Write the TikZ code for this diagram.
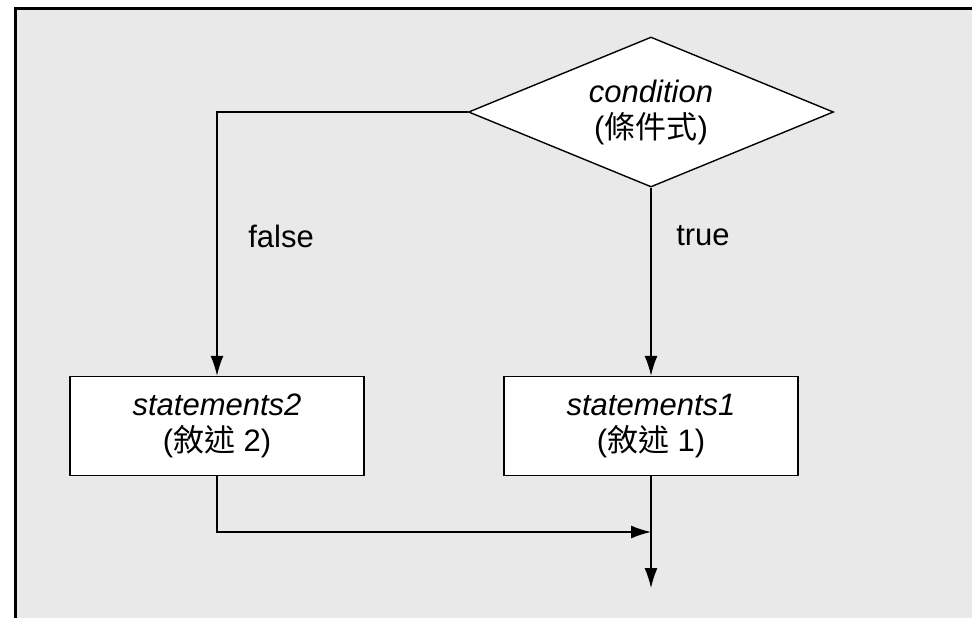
\documentclass[tikz,border=0pt]{standalone}
\usepackage{fontspec}
\setmainfont{Liberation Sans}
\newfontfamily\cjk{Noto Sans CJK TC}
\usetikzlibrary{positioning, shapes.geometric, arrows.meta}
\definecolor{panelgray}{HTML}{E9E9E9}

\begin{document}
\begin{tikzpicture}[x=0.5pt, y=-0.5pt, >={Latex[length=10pt,width=6.5pt]},
  every node/.style={font=\fontsize{15.5}{18}\selectfont, align=center},
  stmt/.style={draw, fill=white, line width=0.7pt, minimum width=147pt, minimum height=49.5pt, inner sep=0pt},
  decision/.style={diamond, aspect=2.43, draw, fill=white, line width=0.7pt, minimum width=182.5pt, minimum height=75pt, inner sep=0pt},
  flow/.style={line width=0.7pt}]
  \clip (0,0) rectangle (972,617);
  \draw [fill=panelgray, line width=1.1pt] (15.5,8.5) rectangle (990,640);
  \node (cond) at (651,112) [decision] {\textit{condition}\\({\cjk 條件式})};
  \node (st2) at (217,426) [stmt] {\textit{statements2}\\({\cjk 敘述} 2)};
  \node (st1) at (651,426) [stmt] {\textit{statements1}\\({\cjk 敘述} 1)};
  \node (f) at (281,236) {false};
  \node (t) at (703,236) {true};
  \coordinate (merge) at (651,532);
  \coordinate (out) at (651,588);
  \draw [flow, ->] (cond.west) -| (st2.north);
  \draw [flow, ->] (cond.south) -- (st1.north);
  \draw [flow, ->] (st2.south) |- (merge);
  \draw [flow, ->] (st1.south) -- (out);
\end{tikzpicture}
\end{document}
